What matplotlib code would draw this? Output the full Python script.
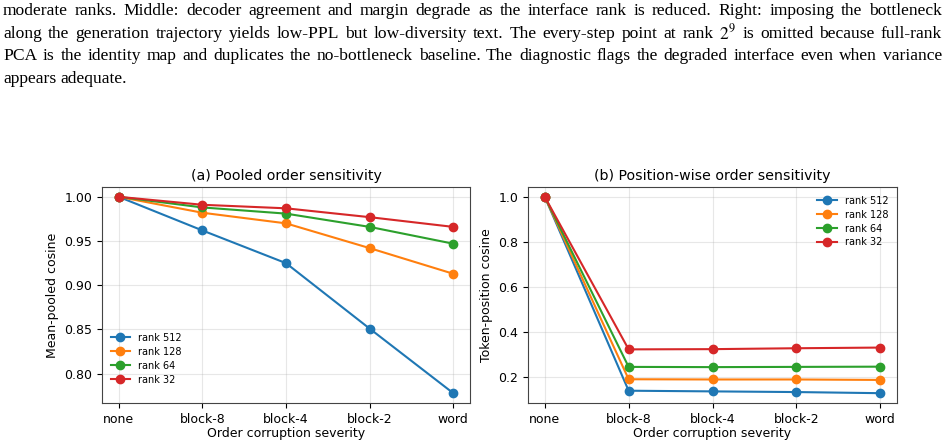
import matplotlib
matplotlib.use("Agg")
import matplotlib.pyplot as plt

plt.rcParams.update({
    'font.family': 'DejaVu Sans',
    'mathtext.fontset': 'stix',
})

severity = ["none", "block-8", "block-4", "block-2", "word"]
ranks = ["rank 512", "rank 128", "rank 64", "rank 32"]
colors = ["#1f77b4", "#ff7f0e", "#2ca02c", "#d62728"]

pooled_512 = [1.000, 0.962, 0.925, 0.851, 0.778]
pooled_128 = [1.000, 0.982, 0.970, 0.942, 0.913]
pooled_64 = [1.000, 0.988, 0.981, 0.966, 0.947]
pooled_32 = [1.000, 0.991, 0.987, 0.977, 0.966]

pos_512 = [1.000, 0.137, 0.134, 0.131, 0.126]
pos_128 = [1.000, 0.188, 0.187, 0.187, 0.185]
pos_64 = [1.000, 0.243, 0.242, 0.243, 0.244]
pos_32 = [1.000, 0.321, 0.322, 0.326, 0.329]

caption = [
    "moderate ranks. Middle: decoder agreement and margin degrade as the interface rank is reduced. Right: imposing the bottleneck",
    "along the generation trajectory yields low-PPL but low-diversity text. The every-step point at rank $2^9$ is omitted because full-rank",
    "PCA is the identity map and duplicates the no-bottleneck baseline. The diagnostic flags the degraded interface even when variance",
    "appears adequate.",
]

W, H = 949, 446
fig = plt.figure(figsize=(W / 100, H / 100), dpi=100)
renderer = fig.canvas.get_renderer()

# caption text from the page above the figure, justified like the source
x_left, x_right = 3, 942
for i, line in enumerate(caption):
    y = 1 - (11 + i * 22.6) / H
    words = line.split(" ")
    texts = [fig.text(0, y, w, family='Liberation Serif', fontsize=12.6,
                      va='center', ha='left') for w in words]
    widths = [t.get_window_extent(renderer).width for t in texts]
    if i < len(caption) - 1:
        gap = (x_right - x_left - sum(widths)) / (len(words) - 1)
    else:
        gap = 12.6 * 100 / 72 * 0.25
    xpos = x_left
    for t, w in zip(texts, widths):
        t.set_x(xpos / W)
        xpos += w + gap

ax1 = fig.add_axes([102 / W, 1 - 403 / H, 368 / W, 216 / H])
ax2 = fig.add_axes([528 / W, 1 - 403 / H, 369 / W, 216 / H])

x = list(range(len(severity)))
for ax, series in [(ax1, [pooled_512, pooled_128, pooled_64, pooled_32]),
                   (ax2, [pos_512, pos_128, pos_64, pos_32])]:
    for vals, lab, c in zip(series, ranks, colors):
        ax.plot(x, vals, marker='o', markersize=6, linewidth=1.5, color=c, label=lab)
    ax.set_xticks(x)
    ax.set_xticklabels(severity)
    ax.set_xlabel("Order corruption severity", fontsize=9, labelpad=1)
    ax.tick_params(labelsize=9)
    ax.grid(True, alpha=0.3)
    for s in ax.spines.values():
        s.set_color('#444444')

ax1.set_title("(a) Pooled order sensitivity", fontsize=10.2, pad=5)
ax1.set_ylabel("Mean-pooled cosine", fontsize=9)
ax1.set_yticks([0.80, 0.85, 0.90, 0.95, 1.00])
ax1.legend(loc='lower left', bbox_to_anchor=(0, 0.045), frameon=False,
           fontsize=7, labelspacing=0.4)

ax2.set_title("(b) Position-wise order sensitivity", fontsize=10.2, pad=5)
ax2.set_ylabel("Token-position cosine", fontsize=9)
ax2.set_yticks([0.2, 0.4, 0.6, 0.8, 1.0])
ax2.legend(loc='upper right', frameon=False, fontsize=7, labelspacing=0.4)

fig.savefig("out.png", dpi=100)
